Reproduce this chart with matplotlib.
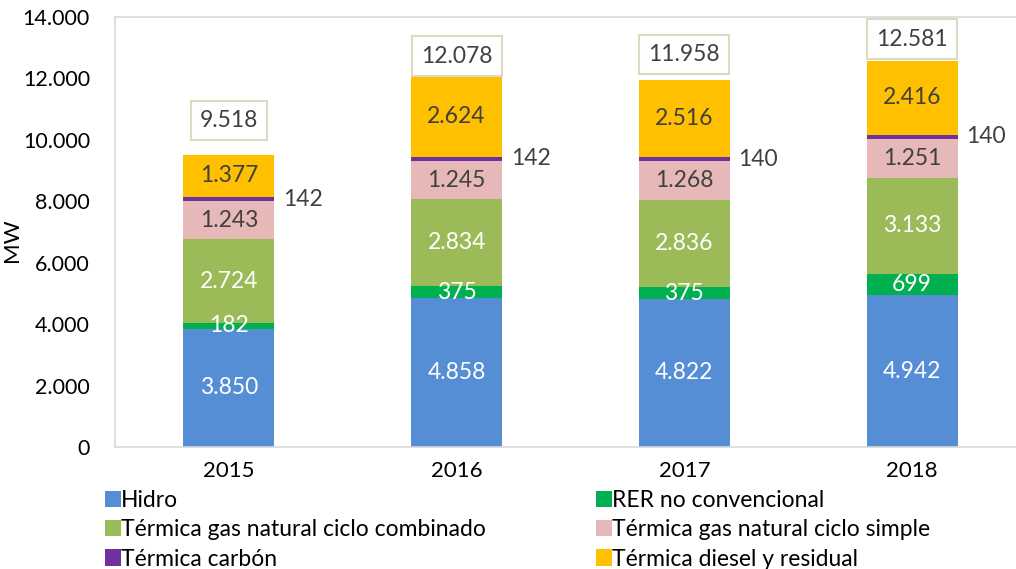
import numpy as np
import matplotlib
matplotlib.use("Agg")
import matplotlib.pyplot as plt
from matplotlib.ticker import FuncFormatter

# data (MW)
years = ["2015", "2016", "2017", "2018"]
hidro = [3850, 4858, 4822, 4942]
rer = [182, 375, 375, 699]
ciclo_combinado = [2724, 2834, 2836, 3133]
ciclo_simple = [1243, 1245, 1268, 1251]
carbon = [142, 142, 140, 140]
diesel = [1377, 2624, 2516, 2416]
totals = [9518, 12078, 11958, 12581]

series_names = ["Hidro", "RER no convencional", "Térmica gas natural ciclo combinado",
                "Térmica gas natural ciclo simple", "Térmica carbón", "Térmica diesel y residual"]
series = [hidro, rer, ciclo_combinado, ciclo_simple, carbon, diesel]
colors = ["#558ED5", "#00B050", "#9BBB59", "#E6B9B8", "#7030A0", "#FFC000"]
label_colors = ["white", "white", "white", "#404040", None, "#404040"]

# where the total boxes sit above each bar (data units)
total_offsets = [1120, 650, 830, 700]

plt.rcParams['font.family'] = ['Lato', 'DejaVu Sans']

def fmt(v):
    return f"{v:,.0f}".replace(",", ".")

fig = plt.figure(figsize=(10.16, 5.69), dpi=100)
ax = fig.add_axes([115/1016, 1-447/569, (1026-115)/1016, (447-17)/569])

x = np.arange(len(years))
w = 0.40
fs = 16.5
bottom = np.zeros(len(years))
handles = []
for vals, name, col, lc in zip(series, series_names, colors, label_colors):
    vals = np.array(vals)
    b = ax.bar(x, vals, w, bottom=bottom, color=col, label=name, zorder=2)
    handles.append(b)
    for xi, v, b0 in zip(x, vals, bottom):
        if lc is None:
            # carbon labels go beside the bar
            ax.text(xi + 0.325, b0 + v/2, fmt(v), ha='center', va='center',
                    fontsize=fs, color='#404040')
        else:
            ax.text(xi, b0 + v/2, fmt(v), ha='center', va='center',
                    fontsize=fs, color=lc)
    bottom += vals

for xi, t, off in zip(x, totals, total_offsets):
    ax.text(xi, t + off, fmt(t), ha='center', va='center', fontsize=fs, color='#404040',
            bbox=dict(boxstyle='square,pad=0.4', fc='white', ec='#DDD9C3', lw=1.5))

ax.set_xlim(-0.5, 3.5)
ax.set_ylim(0, 14000)
ax.set_yticks(np.arange(0, 14001, 2000))
ax.yaxis.set_major_formatter(FuncFormatter(lambda v, p: fmt(v)))
ax.set_xticks(x)
ax.set_xticklabels(years)
ax.tick_params(axis='x', length=0, labelsize=16, colors='black', pad=10)
ax.tick_params(axis='y', length=0, labelsize=15.5, colors='black', pad=18)
for s in ax.spines.values():
    s.set_color('#D9D9D9')
    s.set_linewidth(1.2)
ax.set_ylabel("MW", fontsize=16)
ax.yaxis.set_label_coords(-0.102, 0.48)

order = [0, 2, 4, 1, 3, 5]
fig.legend([handles[i] for i in order], [series_names[i] for i in order],
           ncol=2, loc='upper left', bbox_to_anchor=(105/1016, 1-490/569),
           frameon=False, fontsize=fs, handlelength=0.7, handleheight=0.7,
           handletextpad=0.0, columnspacing=4.8, labelspacing=0.36,
           borderaxespad=0, borderpad=0)

fig.savefig("out.png", dpi=100)
